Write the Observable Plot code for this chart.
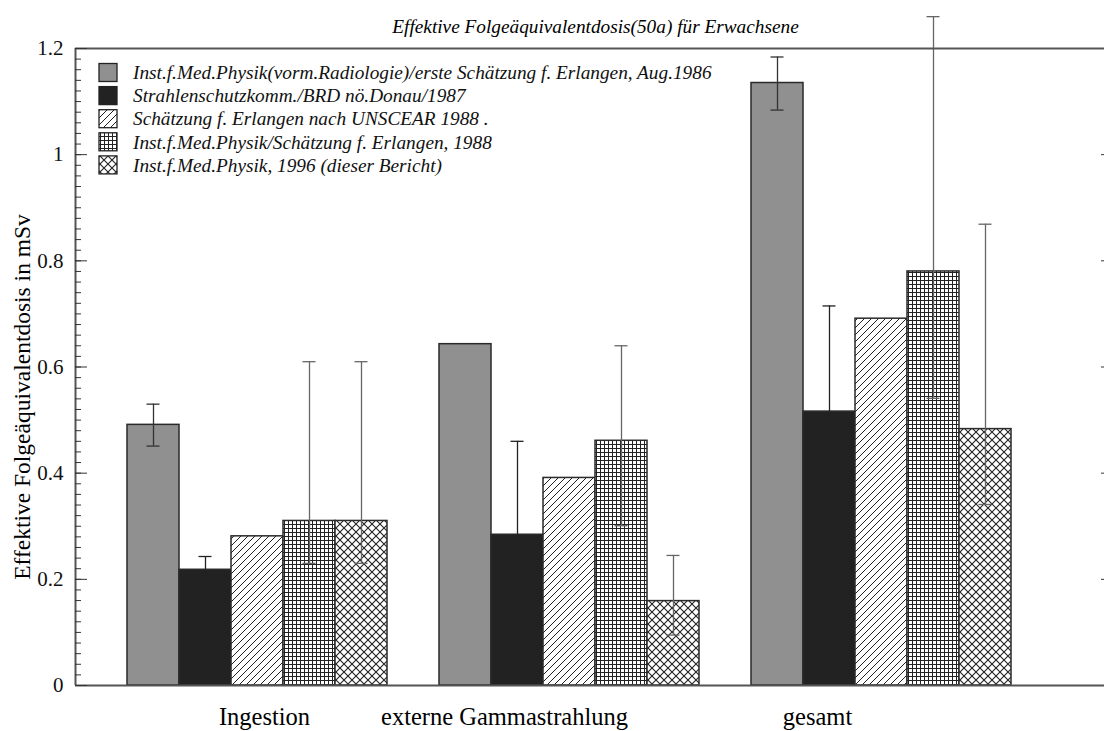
<!DOCTYPE html>
<html>
<head>
<meta charset="utf-8">
<script src="https://cdn.jsdelivr.net/npm/d3@7"></script>
<script src="https://cdn.jsdelivr.net/npm/@observablehq/plot@0.6"></script>
<style>
  html, body { margin: 0; padding: 0; background: #fff; }
  #defs { position: absolute; width: 0; height: 0; }
</style>
</head>
<body>
<svg id="defs" width="0" height="0">
  <defs>
    <pattern id="pHatch" patternUnits="userSpaceOnUse" width="7" height="7">
      <rect width="7" height="7" fill="#fff"/>
      <path d="M-1,1 L1,-1 M0,7 L7,0 M6,8 L8,6" stroke="#222" stroke-width="1"/>
    </pattern>
    <pattern id="pGrid" patternUnits="userSpaceOnUse" width="4" height="4">
      <rect width="4" height="4" fill="#fff"/>
      <path d="M0.5,0 L0.5,4 M0,0.5 L4,0.5" stroke="#222" stroke-width="1"/>
    </pattern>
    <pattern id="pCross" patternUnits="userSpaceOnUse" width="8" height="8">
      <rect width="8" height="8" fill="#fff"/>
      <path d="M0,0 L8,8 M8,0 L0,8" stroke="#222" stroke-width="1.1"/>
    </pattern>
  </defs>
</svg>
<div id="chart"></div>
<script>
// ---- data ----
const groups = ["Ingestion", "externe Gammastrahlung", "gesamt"];
const series = [
  "Inst.f.Med.Physik(vorm.Radiologie)/erste Schätzung f. Erlangen, Aug.1986",
  "Strahlenschutzkomm./BRD nö.Donau/1987",
  "Schätzung f. Erlangen nach UNSCEAR 1988 .",
  "Inst.f.Med.Physik/Schätzung f. Erlangen, 1988",
  "Inst.f.Med.Physik, 1996 (dieser Bericht)"
];
const s1 = [0.491, 0.643, 1.135];
const s2 = [0.218, 0.284, 0.516];
const s3 = [0.281, 0.391, 0.691];
const s4 = [0.310, 0.461, 0.780];
const s5 = [0.310, 0.159, 0.483];
const s1Lo = [0.451, null, 1.084], s1Hi = [0.530, null, 1.184];
const s2Lo = [0.193, 0.109, 0.316], s2Hi = [0.243, 0.460, 0.715];
const s3Lo = [null, null, null],    s3Hi = [null, null, null];
const s4Lo = [0.230, 0.301, 0.541], s4Hi = [0.610, 0.640, 1.260];
const s5Lo = [0.230, 0.095, 0.341], s5Hi = [0.610, 0.245, 0.869];
const yTicksMajor = [0, 0.2, 0.4, 0.6, 0.8, 1, 1.2];
const title = "Effektive Folgeäquivalentdosis(50a) für Erwachsene";
const yTitle = "Effektive Folgeäquivalentdosis in mSv";

// ---- styles ----
const fills = ["#909090", "#222222", "url(#pHatch)", "url(#pGrid)", "url(#pCross)"];
const errStroke = ["#333", "#222", "#555", "#666", "#666"];
const labelDx = [7, -65, -64];
const serif = "'Liberation Serif', 'Times New Roman', serif";

const values = [s1, s2, s3, s4, s5];
const los = [s1Lo, s2Lo, s3Lo, s4Lo, s5Lo];
const his = [s1Hi, s2Hi, s3Hi, s4Hi, s5Hi];

const rows = [];
const errs = [];
groups.forEach((g, gi) => {
  series.forEach((s, si) => {
    const x1 = 1 + gi * 6 + si;
    rows.push({group: g, series: s, value: values[si][gi], x1, x2: x1 + 1});
    if (los[si][gi] != null) {
      errs.push({series: s, si, c: x1 + 0.5, lo: los[si][gi], hi: his[si][gi]});
    }
  });
});
const caps = errs.flatMap(e => [{...e, y: e.lo}, {...e, y: e.hi}]);
const minorTicks = d3.range(0, 61).map(i => i * 0.02);

const W = 1104, H = 731, mL = 75, mR = 0, mT = 48, mB = 46;
const xMax = (W - mL - mR) / 52;

const chart = Plot.plot({
  width: W, height: H,
  marginLeft: mL, marginRight: mR, marginTop: mT, marginBottom: mB,
  style: {fontFamily: serif, background: "#fff", color: "#000"},
  x: {domain: [0, xMax], axis: null},
  y: {domain: [0, 1.2], axis: null},
  color: {domain: series, range: fills},
  marks: [
    Plot.rectY(rows, {x1: "x1", x2: "x2", y1: 0, y2: "value", fill: "series", stroke: "#2a2a2a", strokeWidth: 1.5}),
    Plot.ruleX(errs, {x: "c", y1: "lo", y2: "hi", stroke: d => errStroke[d.si], strokeWidth: 1.3}),
    Plot.ruleY(caps, {y: "y", x1: d => d.c - 0.125, x2: d => d.c + 0.125, stroke: d => errStroke[d.si], strokeWidth: 1.3}),
    Plot.ruleY([0, 1.2], {stroke: "#555", strokeWidth: 2}),
    Plot.ruleX([0], {stroke: "#555", strokeWidth: 2}),
    Plot.axisY({anchor: "left", ticks: minorTicks, tickSize: -6, tickFormat: () => "", label: null, stroke: "#333"}),
    Plot.axisY({anchor: "left", ticks: yTicksMajor, tickSize: -12, tickFormat: () => "", label: null, stroke: "#333"}),
    Plot.axisY({anchor: "left", ticks: yTicksMajor, tickSize: 0, tickPadding: 12, tickFormat: d => String(d), label: null, fontSize: 21, fontFamily: serif, fill: "#111"}),
    Plot.axisY({anchor: "right", ticks: yTicksMajor.slice(1, -1), tickSize: -4, tickFormat: () => "", label: null, stroke: "#333"}),
    ...groups.map((g, gi) => Plot.text([g], {x: gi * 6 + 3.5, y: 0, dy: 32, dx: labelDx[gi], text: d => d, fontSize: 24.5, fontFamily: serif, fill: "#000"})),
    Plot.text([title], {frameAnchor: "top", dx: 5.5, dy: -29, text: d => d, fontSize: 19.3, fontStyle: "italic", fontFamily: serif, fill: "#000"})
  ]
});

const svg = d3.select(chart);
// y-axis title
svg.append("text")
  .attr("transform", "translate(22,397) rotate(-90)")
  .attr("text-anchor", "middle").attr("dy", "0.35em")
  .attr("font-family", serif).attr("font-size", 23.5).attr("fill", "#000")
  .text(yTitle);

// legend inside the plot frame
const lg = svg.append("g").attr("font-family", serif).attr("font-style", "italic")
  .attr("font-size", 19.3).attr("text-anchor", "start");
series.forEach((s, i) => {
  const cy = 72.5 + i * 23.1;
  lg.append("rect").attr("x", 99).attr("y", cy - 9).attr("width", 18).attr("height", 18)
    .attr("fill", fills[i]).attr("stroke", "#222").attr("stroke-width", 1.3);
  lg.append("text").attr("x", 133).attr("y", cy).attr("dy", "0.35em").attr("fill", "#111").text(s);
});

document.getElementById("chart").appendChild(chart);
</script>
</body>
</html>
